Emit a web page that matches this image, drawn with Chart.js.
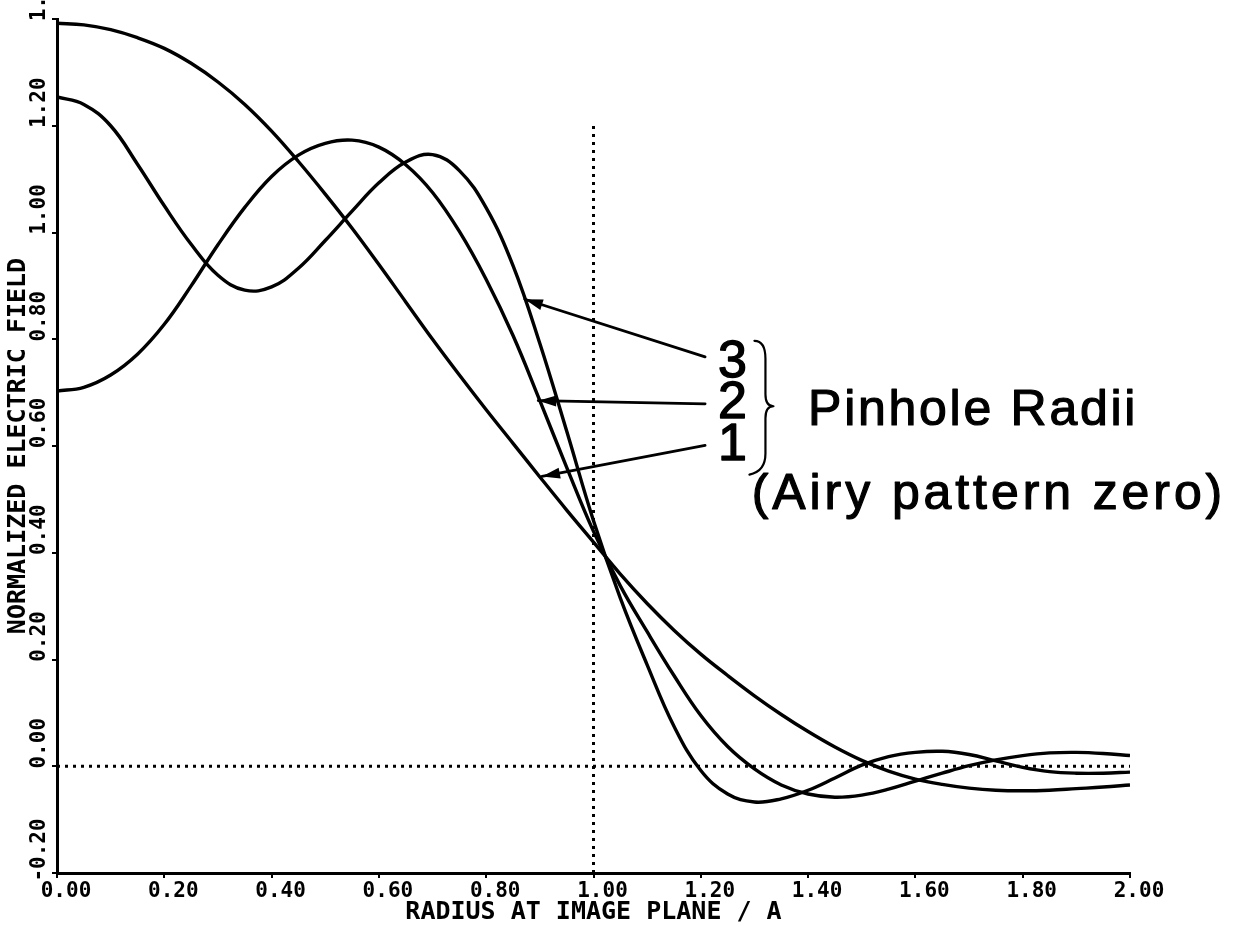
<!DOCTYPE html>
<html>
<head>
<meta charset="utf-8">
<script src="https://cdn.jsdelivr.net/npm/chart.js@4.4.1/dist/chart.umd.min.js"></script>
<style>
  html, body { margin: 0; padding: 0; background: #fff; }
  #wrap { width: 1245px; height: 927px; }
</style>
</head>
<body>
<div id="wrap"><canvas id="chart" width="1245" height="927"></canvas></div>
<script>
// radius at image plane (units of A)
const radius = [
  0.00, 0.05, 0.10, 0.15, 0.20, 0.25, 0.30, 0.35, 0.40, 0.45,
  0.50, 0.55, 0.60, 0.65, 0.70, 0.75, 0.80, 0.85, 0.90, 0.95,
  1.00, 1.05, 1.10, 1.15, 1.20, 1.25, 1.30, 1.35, 1.40, 1.45,
  1.50, 1.55, 1.60, 1.65, 1.70, 1.75, 1.80, 1.85, 1.90, 1.95, 2.00
];

// normalized field for pinhole radius 1
const field1 = [
  1.392, 1.389, 1.380, 1.365, 1.345, 1.317, 1.282, 1.240, 1.190, 1.133,
  1.072, 1.008, 0.940, 0.870, 0.800, 0.733, 0.668, 0.605, 0.542, 0.480,
  0.420, 0.360, 0.305, 0.255, 0.210, 0.170, 0.132, 0.097, 0.065, 0.036,
  0.011, -0.009, -0.024, -0.034, -0.041, -0.045, -0.046, -0.045, -0.042, -0.039, -0.035
];

// pinhole radius 2
const field2 = [
  0.703, 0.710, 0.733, 0.772, 0.828, 0.900, 0.977, 1.047, 1.105, 1.145,
  1.167, 1.173, 1.160, 1.127, 1.075, 1.002, 0.912, 0.807, 0.685, 0.560,
  0.440, 0.338, 0.252, 0.170, 0.095, 0.037, -0.005, -0.035, -0.052, -0.058,
  -0.054, -0.043, -0.028, -0.013, 0.001, 0.012, 0.020, 0.025, 0.026, 0.024, 0.020
];

// pinhole radius 3
const field3 = [
  1.254, 1.240, 1.200, 1.128, 1.050, 0.978, 0.920, 0.892, 0.898, 0.933,
  0.985, 1.040, 1.093, 1.132, 1.146, 1.116, 1.046, 0.938, 0.792, 0.628,
  0.460, 0.315, 0.190, 0.075, -0.008, -0.052, -0.067, -0.061, -0.045, -0.022,
  0.002, 0.018, 0.026, 0.028, 0.022, 0.010, -0.002, -0.010, -0.013, -0.013, -0.011
];

// dotted guides: zero level and the Airy zero at r = A
const zeroLineX = [0, 2];
const zeroLineY = [0, 0];
const edgeLineX = [1, 1];
const edgeLineY = [-0.2, 1.2];

// pointer labels, in data units
const pointerLabels = ['3', '2', '1'];
const pointerTipX = [0.872, 0.897, 0.904];
const pointerTipY = [0.875, 0.685, 0.543];
const pointerTailX = [1.208, 1.208, 1.208];
const pointerTailY = [0.767, 0.679, 0.601];
const pointerTextY = [0.757, 0.679, 0.600];

const pts = (xs, ys) => xs.map((x, i) => ({ x, y: ys[i] }));
const fmt = (v) => (Math.abs(v) < 1e-9 ? 0 : v).toFixed(2);

const plotter = { family: 'DejaVu Sans Mono', weight: 'bold', size: 21 };
const plotterTitle = { family: 'DejaVu Sans Mono', weight: 'bold', size: 25 };
const sans = '"Liberation Sans", Arial, sans-serif';

function curve(data) {
  return {
    data: pts(radius, data),
    borderColor: '#000',
    borderWidth: 3.4,
    pointRadius: 0,
    tension: 0.4,
    fill: false,
  };
}

function dotted(xs, ys) {
  return {
    data: pts(xs, ys),
    borderColor: '#000',
    borderWidth: 3,
    borderDash: [3, 5],
    pointRadius: 0,
    fill: false,
  };
}

// heavier strokes, like the pen-plotted lettering
function inkText(ctx, text, x, y) {
  ctx.fillText(text, x, y);
  ctx.strokeText(text, x, y);
}

function spacedText(ctx, text, left, right, y) {
  ctx.letterSpacing = '0px';
  const natural = ctx.measureText(text).width;
  const gap = (right - left - natural) / (text.length - 1);
  ctx.letterSpacing = gap.toFixed(2) + 'px';
  inkText(ctx, text, left, y);
  ctx.letterSpacing = '0px';
}

const pinholeNotes = {
  id: 'pinholeNotes',
  afterDatasetsDraw(chart) {
    const { ctx, scales: { x, y } } = chart;
    ctx.save();
    ctx.strokeStyle = '#000';
    ctx.fillStyle = '#000';
    ctx.lineCap = 'round';
    ctx.lineJoin = 'round';

    pointerLabels.forEach((lab, i) => {
      const x0 = x.getPixelForValue(pointerTailX[i]);
      const y0 = y.getPixelForValue(pointerTailY[i]);
      const x1 = x.getPixelForValue(pointerTipX[i]);
      const y1 = y.getPixelForValue(pointerTipY[i]);
      const a = Math.atan2(y1 - y0, x1 - x0);
      ctx.lineWidth = 2.8;
      ctx.beginPath();
      ctx.moveTo(x0, y0);
      ctx.lineTo(x1, y1);
      ctx.stroke();
      ctx.beginPath();
      ctx.moveTo(x1, y1);
      ctx.lineTo(x1 - 18 * Math.cos(a) + 5.5 * Math.sin(a), y1 - 18 * Math.sin(a) - 5.5 * Math.cos(a));
      ctx.lineTo(x1 - 18 * Math.cos(a) - 5.5 * Math.sin(a), y1 - 18 * Math.sin(a) + 5.5 * Math.cos(a));
      ctx.closePath();
      ctx.fill();

      ctx.font = '52px ' + sans;
      ctx.textAlign = 'left';
      ctx.textBaseline = 'middle';
      ctx.lineWidth = 1.4;
      inkText(ctx, lab, x.getPixelForValue(1.232), y.getPixelForValue(pointerTextY[i]));
    });

    // curly brace grouping the three radii
    const bx = x.getPixelForValue(1.300);
    const top = y.getPixelForValue(0.797);
    const bot = y.getPixelForValue(0.552);
    const mid = (top + bot) / 2;
    const bulge = bx + 11;
    const tip = bx + 19;
    ctx.lineWidth = 2.2;
    ctx.beginPath();
    ctx.moveTo(bx, top);
    ctx.quadraticCurveTo(bulge, top, bulge, top + 18);
    ctx.lineTo(bulge, mid - 12);
    ctx.quadraticCurveTo(bulge, mid, tip, mid);
    ctx.quadraticCurveTo(bulge, mid, bulge, mid + 12);
    ctx.lineTo(bulge, bot - 18);
    ctx.quadraticCurveTo(bulge, bot, bx - 5, bot + 3);
    ctx.stroke();

    ctx.font = '50px ' + sans;
    ctx.textBaseline = 'middle';
    ctx.lineWidth = 1.2;
    spacedText(ctx, 'Pinhole Radii', x.getPixelForValue(1.40), x.getPixelForValue(2.01), y.getPixelForValue(0.665));
    spacedText(ctx, '(Airy pattern zero)', x.getPixelForValue(1.295), x.getPixelForValue(2.172), y.getPixelForValue(0.508));
    ctx.restore();
  },
};

new Chart(document.getElementById('chart'), {
  type: 'line',
  data: {
    datasets: [
      curve(field1),
      curve(field2),
      curve(field3),
      dotted(zeroLineX, zeroLineY),
      dotted(edgeLineX, edgeLineY),
    ],
  },
  options: {
    responsive: false,
    devicePixelRatio: 1,
    animation: false,
    layout: { padding: { left: 0, top: 19, right: 115, bottom: 0 } },
    plugins: { legend: { display: false }, tooltip: { enabled: false } },
    scales: {
      x: {
        type: 'linear',
        min: 0,
        max: 2,
        afterFit(scale) { scale.height = 54; },
        ticks: {
          stepSize: 0.2,
          maxRotation: 0,
          autoSkip: false,
          labelOffset: 9,
          padding: 1,
          color: '#000',
          font: plotter,
          callback: (v) => fmt(v),
        },
        grid: { drawOnChartArea: false, drawTicks: true, tickLength: 5, color: '#000', lineWidth: 2 },
        border: { display: true, color: '#000', width: 3 },
        title: {
          display: true,
          text: 'RADIUS AT IMAGE PLANE / A',
          color: '#000',
          font: plotterTitle,
          padding: { top: 0, bottom: 0 },
        },
      },
      y: {
        type: 'linear',
        min: -0.2,
        max: 1.4,
        afterFit(scale) { scale.width = 57; },
        ticks: {
          stepSize: 0.2,
          minRotation: 90,
          maxRotation: 90,
          crossAlign: 'center',
          labelOffset: -23,
          padding: -19,
          autoSkip: false,
          color: '#000',
          font: plotter,
          callback: (v) => fmt(v),
        },
        grid: { drawOnChartArea: false, drawTicks: true, tickLength: 5, color: '#000', lineWidth: 2 },
        border: { display: true, color: '#000', width: 3 },
        title: {
          display: true,
          text: 'NORMALIZED ELECTRIC FIELD',
          color: '#000',
          font: plotterTitle,
          padding: { top: 3, bottom: 0 },
        },
      },
    },
  },
  plugins: [pinholeNotes],
});
</script>
</body>
</html>
